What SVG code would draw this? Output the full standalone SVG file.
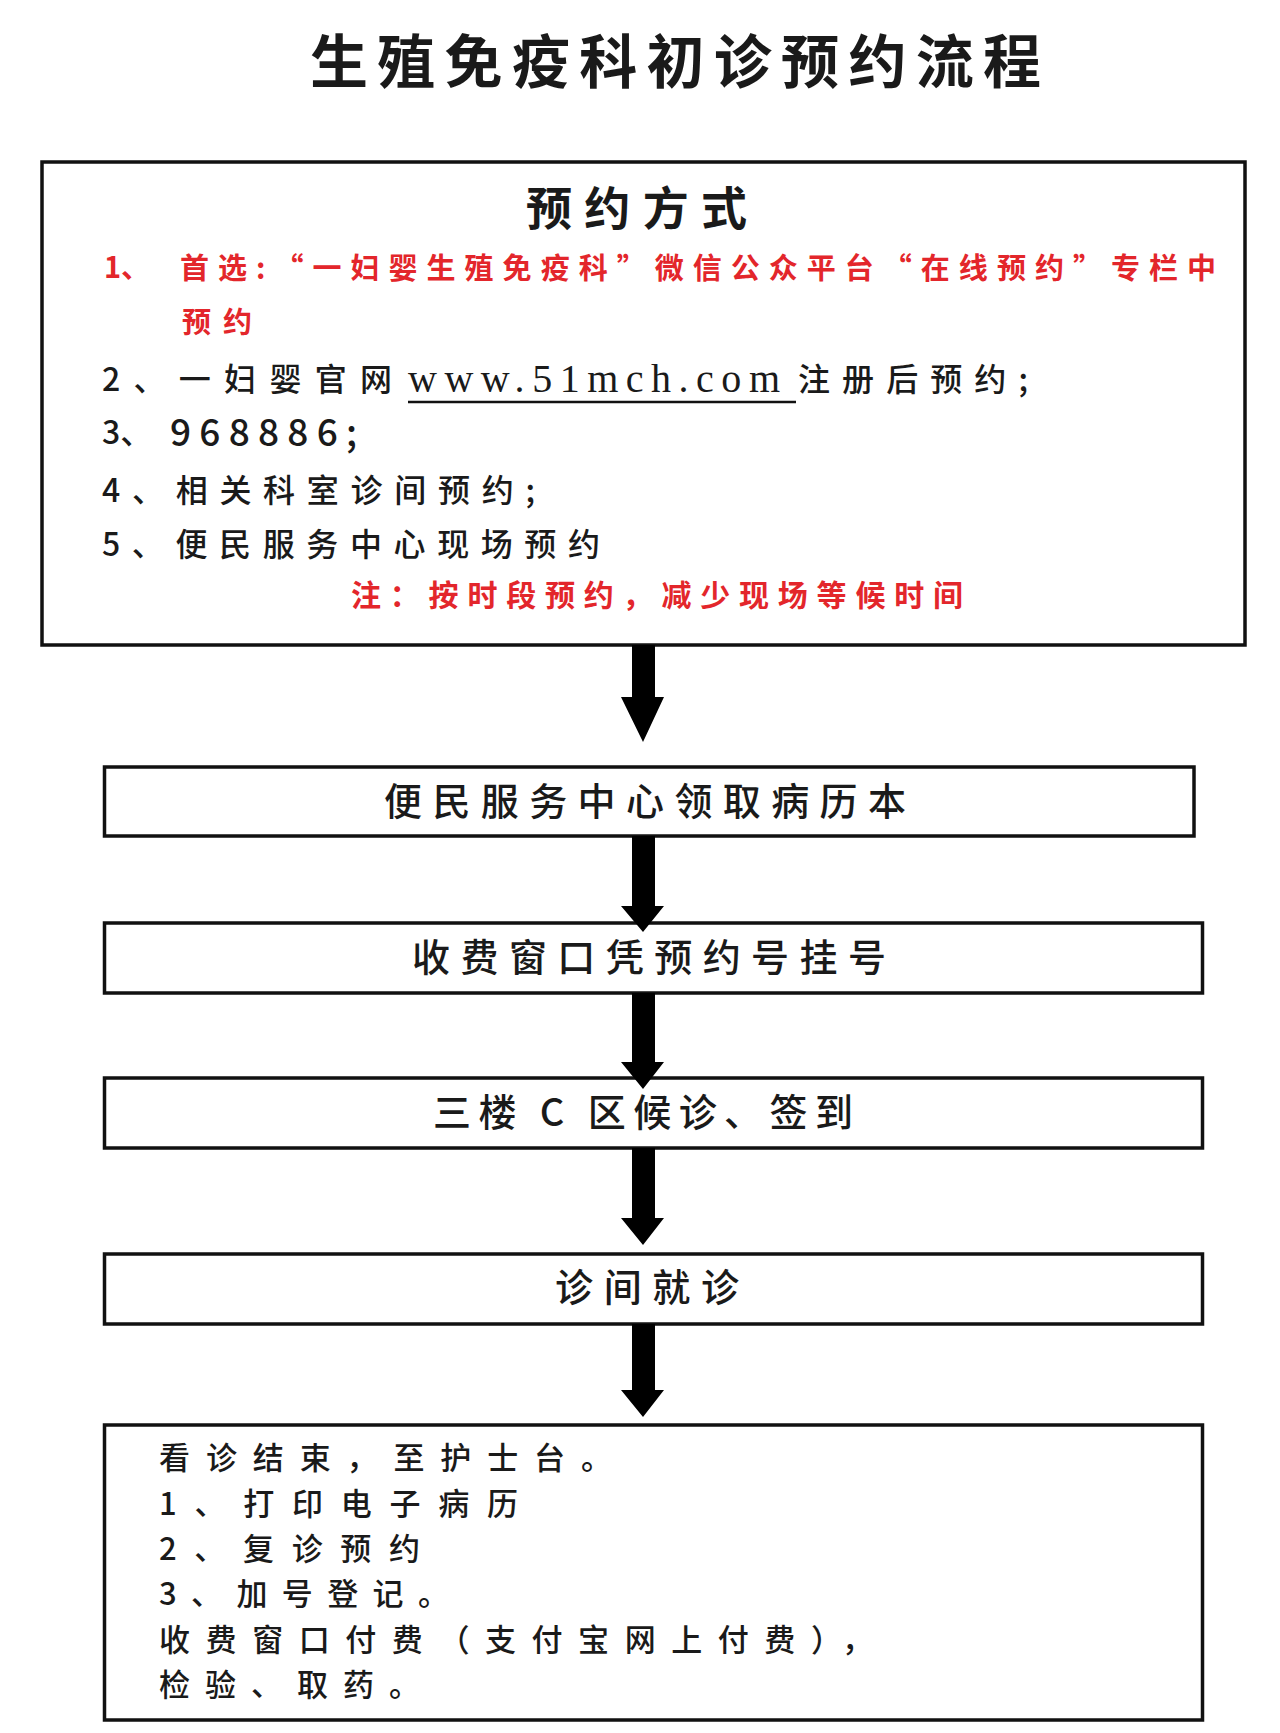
<svg xmlns="http://www.w3.org/2000/svg" width="1280" height="1733" viewBox="0 0 1280 1733">
<style>
.box{fill:#fff;stroke:#111;stroke-width:3.5}
.t{font-family:"Noto Sans CJK SC","Noto Sans",sans-serif;fill:#1a1a1a;dominant-baseline:central;font-weight:500}
.b{font-weight:700}
.red{fill:#e3262b;font-weight:700}
.arrow{fill:#000}
</style>
<rect width="1280" height="1733" fill="#fff"/>
<text class="t b" x="310" y="58" font-size="58" textLength="731" lengthAdjust="spacing">生殖免疫科初诊预约流程</text>

<g id="node-methods">
<rect class="box" x="42" y="162" width="1203" height="483"/>
<text class="t b" x="526" y="205" font-size="46" textLength="221" lengthAdjust="spacing">预约方式</text>
<text class="t red" x="104" y="265" font-size="29">1、</text>
<text class="t red" x="180" y="266" font-size="29" textLength="1036" lengthAdjust="spacing">首选:“一妇婴生殖免疫科”微信公众平台“在线预约”专栏中</text>
<text class="t red" x="182" y="320" font-size="29" textLength="70" lengthAdjust="spacing">预约</text>
<text class="t" x="102" y="377" font-size="32" textLength="290" lengthAdjust="spacing">2、一妇婴官网</text>
<text x="408" y="392" font-family="Liberation Serif,serif" font-size="40" fill="#1a1a1a" textLength="372" lengthAdjust="spacing">www.51mch.com</text>
<line x1="408" y1="402" x2="796" y2="402" stroke="#111" stroke-width="2.5"/>
<text class="t" x="798" y="377" font-size="32" textLength="230" lengthAdjust="spacing">注册后预约;</text>
<text class="t" x="102" y="430" font-size="32">3、</text>
<text class="t" x="170" y="430" font-size="37" textLength="187" lengthAdjust="spacing">968886;</text>
<text class="t" x="102" y="488" font-size="32" textLength="433" lengthAdjust="spacing">4、相关科室诊间预约;</text>
<text class="t" x="102" y="542" font-size="32" textLength="498" lengthAdjust="spacing">5、便民服务中心现场预约</text>
<text class="t red" x="351" y="593" font-size="30" textLength="612" lengthAdjust="spacing">注：按时段预约，减少现场等候时间</text>
</g>

<g id="node-record">
<rect class="box" x="104.5" y="767" width="1089.5" height="69"/>
<text class="t" x="384" y="798" font-size="38" textLength="522" lengthAdjust="spacing">便民服务中心领取病历本</text>
</g>

<g id="node-register">
<rect class="box" x="104.5" y="923" width="1098" height="70"/>
<text class="t" x="412" y="954" font-size="38" textLength="474" lengthAdjust="spacing">收费窗口凭预约号挂号</text>
</g>

<g id="node-wait">
<rect class="box" x="104.5" y="1078" width="1098" height="70"/>
<text class="t" x="433" y="1109" font-size="38" textLength="420" lengthAdjust="spacing">三楼 C 区候诊、签到</text>
</g>

<g id="node-visit">
<rect class="box" x="104.5" y="1254" width="1098" height="70"/>
<text class="t" x="555" y="1284" font-size="38" textLength="184" lengthAdjust="spacing">诊间就诊</text>
</g>

<g id="node-end">
<rect class="box" x="104.5" y="1425" width="1098" height="295"/>
<text class="t" x="159" y="1455" font-size="31" textLength="453" lengthAdjust="spacing">看诊结束，至护士台。</text>
<text class="t" x="159" y="1501" font-size="31" textLength="359" lengthAdjust="spacing">1、打印电子病历</text>
<text class="t" x="159" y="1546" font-size="31" textLength="261" lengthAdjust="spacing">2、复诊预约</text>
<text class="t" x="159" y="1591" font-size="31" textLength="290" lengthAdjust="spacing">3、加号登记。</text>
<text class="t" x="159" y="1637" font-size="31" textLength="714" lengthAdjust="spacing">收费窗口付费（支付宝网上付费），</text>
<text class="t" x="159" y="1682" font-size="31" textLength="261" lengthAdjust="spacing">检验、取药。</text>
</g>

<g id="connectors">
<polygon class="arrow" points="632,645 655,645 655,697 664,697 643,742 621,697 632,697"/>
<polygon class="arrow" points="632,836 655,836 655,906 664,906 643,932 621,906 632,906"/>
<polygon class="arrow" points="632,993 655,993 655,1062 664,1062 643,1089 621,1062 632,1062"/>
<polygon class="arrow" points="632,1148 655,1148 655,1218 664,1218 643,1245 621,1218 632,1218"/>
<polygon class="arrow" points="632,1324 655,1324 655,1390 664,1390 643,1417 621,1390 632,1390"/>
</g>
</svg>
